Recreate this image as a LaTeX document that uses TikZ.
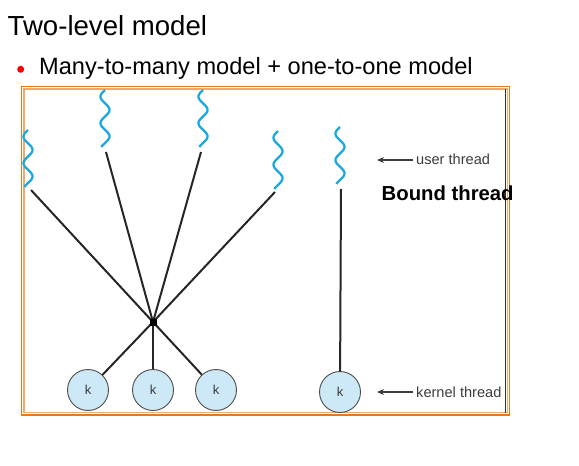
\documentclass[tikz,border=0pt]{standalone}
\usepackage{fontspec}
\setmainfont{Liberation Sans}
\usetikzlibrary{arrows.meta}
\definecolor{frameor}{RGB}{232,119,34}
\definecolor{framelt}{RGB}{240,170,110}
\definecolor{wavec}{RGB}{27,168,224}
\definecolor{kfill}{RGB}{205,232,246}
\definecolor{txtgray}{RGB}{60,60,60}
\tikzset{
  wavy/.style={draw=wavec, line width=2.3pt},
  conn/.style={draw=black!85, line width=2pt},
  kcirc/.style={circle, draw=black!70, fill=kfill, line width=0.9pt, minimum size=41pt, inner sep=0pt, font=\fontsize{13}{15}\selectfont, text=txtgray},
  lbl/.style={anchor=base west, inner sep=0pt, text=txtgray, font=\fontsize{14.6}{17}\selectfont},
  pointer/.style={draw=txtgray, line width=1.3pt, -{Stealth[length=7pt,width=6pt]}}
}
\newcommand{\wave}[4]{% name, x, ytop, ybottom
  \draw[wavy] plot[domain=0:1, samples=80, smooth] ({#2 + 4.5*sin(\x*2.15*360+180)}, {#3 + \x*(#4-#3)});
}
\begin{document}
\begin{tikzpicture}[x=1pt, y=-1pt]
\useasboundingbox (0,0) rectangle (579,466);
% title
\node[anchor=base west, inner sep=0pt, font=\fontsize{27.6}{30}\selectfont] (title) at (7.5,35.7) {Two-level model};
\fill[red] (20.7,69.3) circle (3.5pt);
\node[anchor=base west, inner sep=0pt, font=\fontsize{23.6}{27}\selectfont] (sub) at (39,74) {Many-to-many model + one-to-one model};
% frame
\draw[frameor, line width=1.5pt] (21.5,86.5) rectangle (509.5,415);
\draw[framelt, line width=1.2pt] (24,89) rectangle (507.5,412.5);
\draw[black!80, line width=1.5pt] (505.5,89) -- (505.5,412.5);
% user threads
\wave{u1}{28}{130}{187}
\wave{u2}{105}{90}{147}
\wave{u3}{203}{90}{147}
\wave{u4}{278}{131}{189}
\wave{u5}{340}{127}{184}
\coordinate (u1b) at (31,190);
\coordinate (u2b) at (106,152);
\coordinate (u3b) at (201,152);
\coordinate (u4b) at (275,192);
\coordinate (u5b) at (341,189);
\coordinate (j) at (153,322);
% kernel threads
\node[kcirc] (k1) at (88,390) {k};
\node[kcirc] (k2) at (153,390) {k};
\node[kcirc] (k3) at (216,390) {k};
\node[kcirc] (k4) at (340,392) {k};
% connectors
\draw[conn] (u1b) -- (j);
\draw[conn] (u2b) -- (j);
\draw[conn] (u3b) -- (j);
\draw[conn] (u4b) -- (j);
\draw[conn] (j) -- (k1);
\draw[conn] (j) -- (k2);
\draw[conn] (j) -- (k3);
\draw[conn] (u5b) -- (k4);
\fill[black] (j) +(-3.5,-3.5) rectangle +(3.5,3.5);
% labels
\node[lbl] (ut) at (416,164) {user thread};
\coordinate (uta) at (413,160);
\coordinate (utb) at (377,160);
\draw[pointer] (uta) -- (utb);
\node[anchor=base west, inner sep=0pt, font=\bfseries\fontsize{20.3}{24}\selectfont] (bt) at (381.5,200) {Bound thread};
\node[lbl] (kt) at (416,397) {kernel thread};
\coordinate (kta) at (413,392);
\coordinate (ktb) at (377,392);
\draw[pointer] (kta) -- (ktb);
\end{tikzpicture}
\end{document}
